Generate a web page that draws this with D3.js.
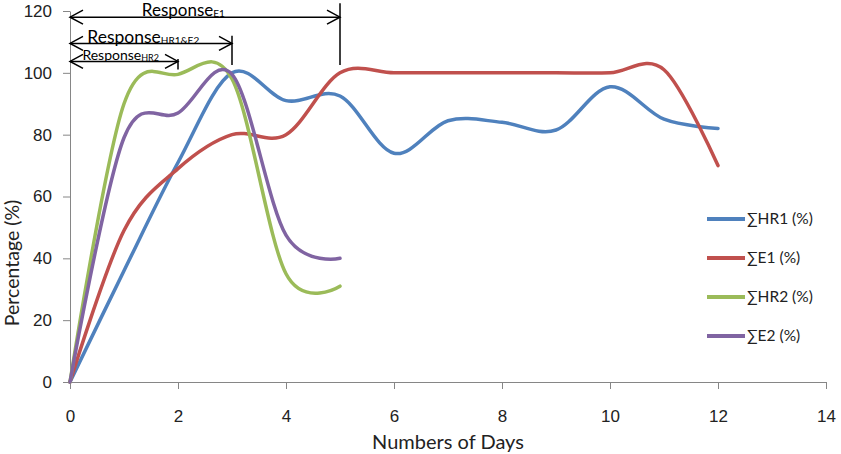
<!doctype html>
<html>
<head>
  <meta charset="utf-8">
  <title>Response curves</title>
  <script src="https://cdn.jsdelivr.net/npm/d3@7/dist/d3.min.js"></script>
  <style>
    body { margin: 0; background: #fff; }
    svg { display: block; font-family: Lato, "Open Sans", sans-serif; }
    .axis path, .axis line { stroke: #868686; stroke-width: 1; }
    .axis text { fill: #222; font-size: 17px; }
  </style>
</head>
<body>
  <div id="chart"></div>

  <script>
    // values
    var days = [0, 1, 2, 3, 4, 5, 6, 7, 8, 9, 10, 11, 12];
    var hr1 = [0, 36, 71, 100, 91, 92.5, 74, 84.5, 84, 81.5, 95.5, 85, 82];
    var e1 = [0, 49, 69, 80, 80, 100, 100, 100, 100, 100, 100, 101, 70];
    var hr2 = [0, 90, 99.5, 98, 35, 31];
    var e2 = [0, 79, 87, 99.5, 47.5, 40];

    var seriesNames = ['∑HR1 (%)', '∑E1 (%)', '∑HR2 (%)', '∑E2 (%)'];
    var seriesColors = ['#4F81BD', '#C0504D', '#9BBB59', '#8064A2'];
    var xTicks = [0, 2, 4, 6, 8, 10, 12, 14];
    var yTicks = [0, 20, 40, 60, 80, 100, 120];

    // response spans: label subscript, end day, arrow level (in % units)
    var responses = [
      { sub: 'E1', end: 5, level: 118, size: 17, subSize: 10, textX: 1.33, top: 122.5, lift: 1.5 },
      { sub: 'HR1&E2', end: 3, level: 109.5, size: 17.5, subSize: 10, textX: 0.32, top: 112, lift: 0.5 },
      { sub: 'HR2', end: 2, level: 103.7, size: 14, subSize: 9, textX: 0.23, top: 104.5, lift: 1.5 }
    ];

    var width = 841, height = 454;
    var x = d3.scaleLinear().domain([0, 14]).range([70, 826]);
    var y = d3.scaleLinear().domain([0, 120]).range([382, 11]);

    var svg = d3.select('#chart').append('svg')
      .attr('width', width)
      .attr('height', height);

    // axes
    svg.append('g')
      .attr('class', 'axis')
      .attr('transform', 'translate(0,' + y(0) + ')')
      .call(d3.axisBottom(x).tickValues(xTicks).tickSize(7).tickSizeOuter(7).tickPadding(21));

    svg.append('g')
      .attr('class', 'axis')
      .attr('transform', 'translate(' + x(0) + ',0)')
      .call(d3.axisLeft(y).tickValues(yTicks).tickSize(7).tickSizeOuter(0).tickPadding(11));

    svg.append('text')
      .attr('x', (x(0) + x(14)) / 2)
      .attr('y', 449)
      .attr('text-anchor', 'middle')
      .attr('font-size', '20px')
      .attr('fill', '#222')
      .text('Numbers of Days');

    svg.append('text')
      .attr('transform', 'translate(19,' + y(38.5) + ') rotate(-90)')
      .attr('text-anchor', 'middle')
      .attr('font-size', '19.5px')
      .attr('fill', '#222')
      .text('Percentage (%)');

    // series
    var series = [hr1, e1, hr2, e2];
    var line = d3.line()
      .x(function(d, i) { return x(days[i]); })
      .y(function(d) { return y(d); })
      .curve(d3.curveCardinal.tension(0));

    svg.selectAll('path.series')
      .data(series)
      .enter()
      .append('path')
      .attr('class', 'series')
      .attr('d', line)
      .attr('fill', 'none')
      .attr('stroke', function(d, i) { return seriesColors[i]; })
      .attr('stroke-width', 3.5)
      .attr('stroke-linecap', 'round')
      .attr('stroke-linejoin', 'round');

    // legend
    var legend = svg.selectAll('g.legend')
      .data(seriesNames)
      .enter()
      .append('g')
      .attr('class', 'legend')
      .attr('transform', function(d, i) { return 'translate(707,' + (219 + i * 39) + ')'; });

    legend.append('line')
      .attr('x1', 0).attr('x2', 38)
      .attr('stroke', function(d, i) { return seriesColors[i]; })
      .attr('stroke-width', 4);

    legend.append('text')
      .attr('x', 40)
      .attr('dy', '0.35em')
      .attr('font-size', '15.5px')
      .attr('fill', '#222')
      .text(function(d) { return d; });

    // response arrows
    var arrowLen = 13, arrowHalf = 7;
    var ann = svg.selectAll('g.resp')
      .data(responses)
      .enter()
      .append('g')
      .attr('class', 'resp')
      .attr('stroke', '#000')
      .attr('stroke-width', 1.5)
      .attr('fill', 'none');

    ann.append('line')
      .attr('x1', x(0)).attr('x2', function(d) { return x(d.end); })
      .attr('y1', function(d) { return y(d.level); })
      .attr('y2', function(d) { return y(d.level); });

    ann.append('path')
      .attr('d', function(d) {
        var yy = y(d.level), x0 = x(0), x1 = x(d.end);
        return 'M' + (x0 + arrowLen) + ',' + (yy - arrowHalf) + 'L' + x0 + ',' + yy + 'L' + (x0 + arrowLen) + ',' + (yy + arrowHalf) +
          'M' + (x1 - arrowLen) + ',' + (yy - arrowHalf) + 'L' + x1 + ',' + yy + 'L' + (x1 - arrowLen) + ',' + (yy + arrowHalf);
      });

    ann.append('line')
      .attr('x1', function(d) { return x(d.end); })
      .attr('x2', function(d) { return x(d.end); })
      .attr('y1', function(d) { return y(d.top); })
      .attr('y2', function(d) { return d.end === 2 ? y(d.level) + 8 : y(102.5); });

    var labels = svg.selectAll('text.resp')
      .data(responses)
      .enter()
      .append('text')
      .attr('class', 'resp')
      .attr('x', function(d) { return x(d.textX); })
      .attr('y', function(d) { return y(d.level) - d.lift; })
      .attr('font-size', function(d) { return d.size + 'px'; })
      .attr('fill', '#000');

    labels.append('tspan').text('Response');
    labels.append('tspan')
      .attr('dy', 1.5)
      .attr('font-size', function(d) { return d.subSize + 'px'; })
      .text(function(d) { return d.sub; });
  </script>
</body>
</html>
